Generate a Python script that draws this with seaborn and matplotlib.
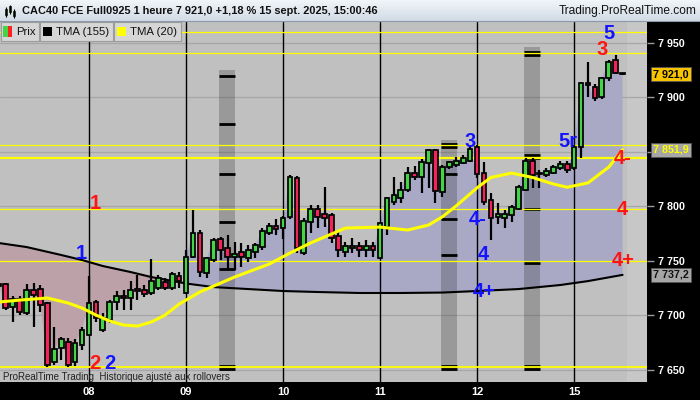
import numpy as np
import pandas as pd
import seaborn as sns
import matplotlib.pyplot as plt
import matplotlib.transforms as mtransforms
from matplotlib.patches import Rectangle

# CAC40 future, 1h bars. bar 0 = Mon 08 sept 08:00, 14 bars per session
bar_idx = list(range(-13, 78))
opens = [7727, 7729, 7708, 7715, 7702, 7723, 7724, 7711, 7657, 7670, 7676, 7657, 7673,
         7682, 7712, 7687, 7696, 7712, 7718, 7716, 7724, 7723, 7721, 7725, 7731, 7725, 7736,
         7721, 7754, 7776, 7739, 7751, 7770, 7762, 7754, 7758, 7753, 7758, 7763, 7776, 7782,
         7780, 7790, 7826, 7757, 7786, 7798, 7793, 7792, 7773, 7758, 7762, 7764, 7760, 7764,
         7753, 7781, 7804, 7808, 7815, 7831, 7827, 7840, 7852, 7813, 7836, 7838, 7840, 7842,
         7854, 7831, 7806, 7790, 7789, 7792, 7798, 7815, 7842, 7830, 7829, 7831, 7835, 7839,
         7835, 7854, 7913, 7909, 7900, 7918, 7934, 7922]
highs = [7731, 7730, 7718, 7718, 7729, 7730, 7728, 7712, 7689, 7680, 7679, 7678, 7689,
         7736, 7714, 7702, 7714, 7722, 7723, 7732, 7737, 7728, 7752, 7737, 7734, 7740, 7740,
         7760, 7797, 7778, 7754, 7771, 7772, 7774, 7767, 7766, 7765, 7766, 7780, 7785, 7788,
         7791, 7829, 7828, 7789, 7801, 7801, 7818, 7794, 7778, 7767, 7771, 7767, 7769, 7767,
         7786, 7809, 7827, 7822, 7836, 7837, 7843, 7853, 7853, 7838, 7842, 7845, 7847, 7855,
         7856, 7841, 7812, 7803, 7797, 7801, 7820, 7844, 7844, 7833, 7835, 7838, 7842, 7842,
         7856, 7914, 7932, 7912, 7919, 7934, 7939, 7922]
lows = [7724, 7705, 7694, 7700, 7700, 7689, 7703, 7653, 7655, 7659, 7653, 7654, 7668,
        7681, 7694, 7685, 7693, 7705, 7705, 7705, 7714, 7717, 7719, 7723, 7723, 7723, 7725,
        7720, 7753, 7735, 7734, 7749, 7751, 7742, 7742, 7744, 7749, 7753, 7760, 7774, 7774,
        7770, 7788, 7757, 7755, 7776, 7780, 7781, 7766, 7754, 7754, 7757, 7754, 7754, 7754,
        7752, 7774, 7801, 7803, 7813, 7824, 7812, 7817, 7803, 7809, 7834, 7836, 7839, 7841,
        7826, 7801, 7769, 7784, 7780, 7786, 7797, 7814, 7817, 7817, 7827, 7830, 7833, 7831,
        7833, 7844, 7900, 7897, 7898, 7915, 7921, 7920]
closes = [7729, 7707, 7715, 7703, 7723, 7719, 7710, 7655, 7669, 7678, 7655, 7675, 7687,
          7711, 7698, 7698, 7712, 7718, 7716, 7723, 7722, 7720, 7732, 7734, 7725, 7738, 7732,
          7754, 7776, 7740, 7753, 7769, 7760, 7754, 7756, 7754, 7760, 7765, 7777, 7782, 7779,
          7789, 7827, 7762, 7787, 7798, 7790, 7789, 7771, 7760, 7764, 7764, 7760, 7764, 7760,
          7785, 7808, 7810, 7815, 7831, 7827, 7841, 7852, 7814, 7836, 7841, 7842, 7844, 7853,
          7830, 7804, 7789, 7793, 7793, 7799, 7818, 7842, 7829, 7831, 7832, 7836, 7839, 7833,
          7854, 7913, 7911, 7899, 7918, 7932, 7922, 7921]

# moving averages
tma155_idx = [-13, -9, -4, -1, 2, 6, 9, 14, 18, 23, 28, 33, 39, 45, 51, 56, 62, 68, 72, 77]
tma155_val = [7766.4, 7762.7, 7755.4, 7750.8, 7745.3, 7739.8, 7735.2, 7729.3, 7726.0, 7724.2,
              7722.4, 7721.5, 7720.6, 7720.6, 7721.0, 7722.4, 7724.2, 7727.9, 7731.5, 7737.2]
tma20_idx = [-13, -10, -6, -3, -1, 1, 3, 5, 7, 9, 11, 13, 16, 21, 26, 29, 32, 37, 42, 46,
             49, 51, 53, 56, 58, 61, 64, 67, 69, 72, 75, 77]
tma20_val = [7712.3, 7714.1, 7716.0, 7711.4, 7706.8, 7700.4, 7694.9, 7691.2, 7690.3, 7694.0,
             7700.4, 7710.4, 7721.5, 7735.2, 7747.1, 7757.2, 7766.5, 7780.1, 7781.0, 7778.3,
             7782.9, 7790.5, 7800.5, 7817.0, 7826.5, 7830.5, 7826.5, 7820.5, 7817.5, 7821.5,
             7836.0, 7851.9]

# horizontal levels (yellow)
levels = [7959.5, 7940.3, 7856.0, 7844.3, 7797.6, 7750.0, 7653.0]
level_lw = [0.9, 0.9, 0.9, 1.6, 0.9, 0.9, 1.3]

# shaded zones with their marks
zone_start = [18.8, 50.8, 62.8]
zone_end = [21.1, 53.1, 65.1]
zone_top = [7925, 7861, 7946]
zone_marks = [[7919.4, 7875.4, 7829.6, 7785.6, 7742.5, 7653.6, 7650.9],
              [7857.0, 7854.4, 7829.6, 7788.4, 7755.4, 7653.6, 7650.9],
              [7941.4, 7938.7, 7847.0, 7844.3, 7797.5, 7748.0, 7653.6, 7650.9]]

# wave labels
lab_text = ['1', '1', '2', '2', '3', '4-', '4', '4+', '5r', '5', '3', '4-', '4', '4+']
lab_idx = [0.87, -1.15, 0.79, 2.96, 54.98, 56.06, 56.93, 57.0, 69.05, 75.04, 74.03, 77.06, 76.98, 77.13]
lab_price = [7803, 7757.2, 7655.9, 7655.9, 7859.4, 7788.4, 7755.8, 7722, 7859.4, 7958.9, 7944.2,
             7843.8, 7797.5, 7750.8]
lab_color = ['r', 'b', 'r', 'b', 'b', 'b', 'b', 'b', 'b', 'b', 'r', 'r', 'r', 'r']

day_idx = [0, 14, 28, 42, 56, 70]
day_labels = ['08', '09', '10', '11', '12', '15']
price_ticks = [7650, 7700, 7750, 7800, 7850, 7900, 7950]

df = pd.DataFrame({'i': bar_idx, 'o': opens, 'h': highs, 'l': lows, 'c': closes})

sns.set_style('white')
plt.rcParams['font.family'] = ['Liberation Sans', 'DejaVu Sans']

GREEN, RED = '#46d446', '#f2245a'
BLUE_T, RED_T = '#1414ff', '#ff1414'

fig = plt.figure(figsize=(7, 4), dpi=100, facecolor='black')
ax = fig.add_axes([0, 18/400, 647/700, 360/400])
ax.set_facecolor('#c0c0c0')
ax.set_xlim(-12.84, 80.52)
ax.set_ylim(7639, 7969)
ax.axvspan(77.6, 80.52, color='#c7c7c7', lw=0, zorder=0)

# grid ; the 7 850 label sits under the TMA20 value box
ax.set_yticks(price_ticks)
ax.set_yticklabels(['' if p == 7850 else f'{p // 1000} {p % 1000:03d}' for p in price_ticks])
ax.yaxis.tick_right()
ax.grid(axis='y', color='#a7a7a7', lw=0.9)
ax.set_axisbelow(True)

# fill between close and TMA155
below = df[df.i <= 13]
above = df[df.i >= 14]
t_lo = [(x, y) for x, y in zip(tma155_idx, tma155_val) if x <= 14][::-1]
t_hi = [(x, y) for x, y in zip(tma155_idx, tma155_val) if x >= 14][::-1]
ax.fill(list(below.i) + [p[0] for p in t_lo], list(below.c) + [p[1] for p in t_lo],
        color='#bca1a8', lw=0, zorder=1)
ax.fill(list(above.i) + [p[0] for p in t_hi], list(above.c) + [p[1] for p in t_hi],
        color='#a9a9c6', lw=0, zorder=1)

# zones
for s, e, top, marks in zip(zone_start, zone_end, zone_top, zone_marks):
    ax.bar((s + e) / 2, top - 7649, bottom=7649, width=e - s, color='black', alpha=0.2,
           lw=0, zorder=2)
    ax.hlines(marks, s, e, color='black', lw=2.0, zorder=2.2)

for d in day_idx:
    ax.axvline(d, color='black', lw=1, zorder=2.5)
for lv, w in zip(levels, level_lw):
    ax.axhline(lv, color='#ffff00', lw=w, zorder=2.6)

sns.lineplot(x=tma155_idx, y=tma155_val, ax=ax, color='black', lw=1.5, zorder=3)

# candles
up = df.c >= df.o
ax.vlines(df.i, df.l, df.h, color='black', lw=1.6, zorder=4)
body = (df.c - df.o).abs().clip(lower=0.9)
ax.bar(df.i, body, bottom=df[['o', 'c']].min(axis=1), width=0.68,
       color=np.where(up, GREEN, RED), edgecolor='black', lw=1.25, zorder=5)

sns.lineplot(x=tma20_idx, y=tma20_val, ax=ax, color='#ffff00', lw=2.2, zorder=6)

for t, x, y, c in zip(lab_text, lab_idx, lab_price, lab_color):
    ax.text(x, y, t, color=BLUE_T if c == 'b' else RED_T, fontsize=14.5,
            fontweight='bold', ha='center', va='center', zorder=8)

ax.set_xticks(day_idx)
ax.set_xticklabels(day_labels)
ax.set_xlabel('')
ax.set_ylabel('')
ax.tick_params(axis='x', length=0, pad=3.5, labelcolor='white', labelsize=8)
ax.tick_params(axis='y', length=5, width=1, color='#9a9a9a', pad=3, labelcolor='white',
               labelsize=7.7)
for lbl in ax.get_yticklabels() + ax.get_xticklabels():
    lbl.set_fontweight('bold')
for sp in ax.spines.values():
    sp.set_visible(False)

# value boxes on the price scale
tr = mtransforms.blended_transform_factory(ax.transAxes, ax.transData)
boxes = [(closes[-1], '#f8c400', 'black'), (tma20_val[-1], '#a6a6a6', '#ffff00'),
         (tma155_val[-1], '#a6a6a6', '#111111')]
for v, fc, tc in boxes:
    s = f'{int(v) // 1000} {v % 1000:05.1f}'.replace('.', ',')
    ax.text(1.0095, v, s, transform=tr, ha='left', va='center', fontsize=7.7,
            fontweight='bold', color=tc, clip_on=False, zorder=9,
            bbox=dict(boxstyle='square,pad=0.18', fc=fc, ec='#555555', lw=0.6))

# overlay for header, legend, footer note
ov = fig.add_axes([0, 0, 1, 1], zorder=10)
ov.set_xlim(0, 700)
ov.set_ylim(400, 0)
ov.axis('off')
grad = np.linspace(0, 1, 20)[:, None]
ov.imshow(grad, extent=(0, 700, 21, 0), aspect='auto', cmap=sns.blend_palette(
    ['#f1f5f9', '#d2dbe5'], as_cmap=True), zorder=1)
ov.plot([0, 700], [21, 21], color='#8a98a8', lw=0.8)
# small candle icon
ov.vlines([6, 10, 14], [7, 5, 9], [17, 14, 18], color='black', lw=0.8)
ov.add_patch(Rectangle((4.8, 9), 2.4, 6, fc=GREEN, ec='black', lw=0.5))
ov.add_patch(Rectangle((8.8, 6), 2.4, 6, fc=GREEN, ec='black', lw=0.5))
ov.add_patch(Rectangle((12.8, 11), 2.4, 5, fc=GREEN, ec='black', lw=0.5))
ov.text(22, 11, 'CAC40 FCE Full0925 1 heure 7 921,0 +1,18 % 15 sept. 2025, 15:00:46',
        fontsize=7.9, fontweight='bold', va='center', color='#111111')
ov.text(697, 11, 'Trading.ProRealTime.com', fontsize=8.6, va='center', ha='right',
        color='#111111')

legend_items = [(1, 38, 'Prix', None), (40, 73, 'TMA (155)', 'black'),
                (114, 67, 'TMA (20)', '#ffff00')]
for x0, w, name, col in legend_items:
    ov.add_patch(Rectangle((x0, 22), w, 19, fc='#d6d6d6', ec='#9c9c9c', lw=0.8))
    if col is None:
        ov.add_patch(Rectangle((x0 + 2, 26), 4.5, 11, fc=GREEN, lw=0))
        ov.add_patch(Rectangle((x0 + 6.5, 26), 4.5, 11, fc='#ff2020', lw=0))
    else:
        ov.add_patch(Rectangle((x0 + 3, 27), 9, 9, fc=col, lw=0))
    ov.text(x0 + 15.5, 31.8, name, fontsize=8.2, va='center', color='#111111')

ov.text(3, 376.5, 'ProRealTime Trading  Historique ajusté aux rollovers', fontsize=7,
        va='center', color='#222222')

fig.savefig('out.png', dpi=100, facecolor='black')
